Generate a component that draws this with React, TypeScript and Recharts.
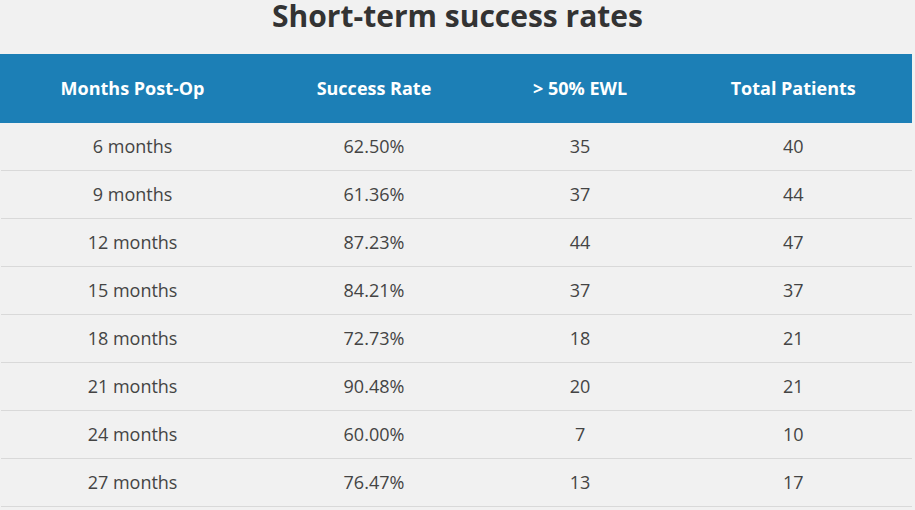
import { BarChart, Bar, XAxis, YAxis } from 'recharts';

// table contents
const months = ['6 months', '9 months', '12 months', '15 months', '18 months', '21 months', '24 months', '27 months'];
const successRate = [62.5, 61.36, 87.23, 84.21, 72.73, 90.48, 60.0, 76.47];
const ewlOver50 = [35, 37, 44, 37, 18, 20, 7, 13];
const totalPatients = [40, 44, 47, 37, 21, 21, 10, 17];
const headers = ['Months Post-Op', 'Success Rate', '> 50% EWL', 'Total Patients'];

// column centres as a share of the table width
const COL_POS = [0.1444, 0.4094, 0.6356, 0.8696];

const W = 915;
const H = 510;
const FONT = '"Open Sans", "DejaVu Sans", sans-serif';

const rows = months.map((m, i) => ({
  months: m,
  rate: successRate[i],
  ewl: ewlOver50[i],
  total: totalPatients[i],
}));

function HeaderTick(props: any) {
  const { x, y, payload } = props;
  const idx = COL_POS.indexOf(payload.value);
  return (
    <text x={x} y={y - 28} textAnchor="middle" fill="#ffffff" fontWeight={700} fontSize={18} fontFamily={FONT}>
      {headers[idx]}
    </text>
  );
}

function RowShape(props: any) {
  const { x, y, width, height, payload } = props;
  const cells = [payload.months, `${payload.rate.toFixed(2)}%`, String(payload.ewl), String(payload.total)];
  return (
    <g>
      <line x1={x} x2={x + width} y1={y + height - 0.5} y2={y + height - 0.5} stroke="#d9d9d9" strokeWidth={1} />
      {cells.map((c, i) => (
        <text
          key={i}
          x={x + width * COL_POS[i]}
          y={y + height / 2}
          dy="0.35em"
          textAnchor="middle"
          fill="#444444"
          fontSize={18}
          fontFamily={FONT}
        >
          {c}
        </text>
      ))}
    </g>
  );
}

export default function App() {
  return (
    <div style={{ position: 'absolute', left: 0, top: 0, width: W, height: H, background: '#f1f1f1', fontFamily: FONT, overflow: 'hidden' }}>
      <div style={{ position: 'absolute', left: 0, top: 1, width: W, textAlign: 'center', fontSize: 30, lineHeight: '30px', fontWeight: 700, color: '#333333' }}>
        Short-term success rates
      </div>
      <div style={{ position: 'absolute', left: 0, top: 54, width: 912, height: 69, background: '#1c7fb6' }} />
      <div style={{ position: 'absolute', left: 0, top: 0 }}>
        <BarChart
          width={W}
          height={H}
          data={rows}
          layout="vertical"
          margin={{ top: 54, right: 3, bottom: 3, left: 1 }}
          barCategoryGap={0}
        >
          <XAxis
            type="number"
            orientation="top"
            domain={[0, 1]}
            ticks={COL_POS}
            height={69}
            axisLine={false}
            tickLine={false}
            tickSize={0}
            tickMargin={0}
            tick={<HeaderTick />}
            interval={0}
          />
          <YAxis type="category" dataKey="months" hide />
          <Bar dataKey={() => 1} shape={<RowShape />} isAnimationActive={false} />
        </BarChart>
      </div>
    </div>
  );
}
